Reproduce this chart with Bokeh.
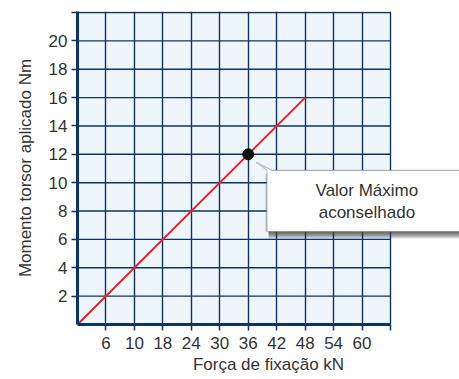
from bokeh.plotting import figure
from bokeh.models import FixedTicker, PolyAnnotation, Label, BoxAnnotation
from bokeh.embed import file_html
from bokeh.resources import INLINE

# ---- data ----
x_positions = [1, 2, 3, 4, 5, 6, 7, 8, 9, 10, 11]
x_labels = ["6", "10", "18", "24", "30", "36", "42", "48", "54", "60", ""]
y_ticks = [2, 4, 6, 8, 10, 12, 14, 16, 18, 20, 22]
y_labels = ["2", "4", "6", "8", "10", "12", "14", "16", "18", "20", ""]
line_x = [0, 8]
line_y = [0, 16]
max_x = [6]
max_y = [12]
callout_lines = ["Valor Máximo", "aconselhado"]

FONT = "Liberation Sans"
NAVY = "#0c3466"
TXT = "#333333"

x_end = x_positions[-1]
y_end = y_ticks[-1]

p = figure(frame_width=382, frame_height=313, x_range=(0, 13.425), y_range=(0, 22.07),
           output_backend="svg", toolbar_location=None,
           min_border_left=77, min_border_right=0, min_border_top=11, min_border_bottom=0)
p.outline_line_color = None
p.background_fill_color = "white"
p.border_fill_color = "white"

# grid panel background
p.add_layout(BoxAnnotation(left=0, right=x_end, bottom=0, top=y_end, fill_color="#eef6fc",
                           fill_alpha=1, line_color=None, level="image"))

# axes
p.xaxis.ticker = FixedTicker(ticks=x_positions)
p.xaxis.major_label_overrides = {k: v for k, v in zip(x_positions, x_labels)}
p.xaxis.bounds = (0, x_end)
p.yaxis.ticker = FixedTicker(ticks=y_ticks)
p.yaxis.major_label_overrides = {k: v for k, v in zip(y_ticks, y_labels)}
for ax in (p.xaxis[0], p.yaxis[0]):
    ax.axis_line_color = NAVY
    ax.axis_line_width = 3
    ax.major_tick_line_color = NAVY
    ax.major_tick_line_width = 1.5
    ax.major_tick_out = 6
    ax.major_tick_in = 0
    ax.minor_tick_line_color = None
    ax.major_label_text_font = FONT
    ax.major_label_text_font_size = "17px"
    ax.major_label_text_color = TXT
    ax.axis_label_text_font = FONT
    ax.axis_label_text_font_size = "17px"
    ax.axis_label_text_font_style = "normal"
    ax.axis_label_text_color = TXT
p.xaxis.axis_label = "Força de fixação kN"
p.yaxis.axis_label = "Momento torsor aplicado Nm"
p.xaxis.major_label_standoff = 6
p.xaxis.axis_label_standoff = 3
p.yaxis.major_label_standoff = 4
p.yaxis.axis_label_standoff = 11

# grid: vertical lines via Grid, horizontal lines limited to the panel
p.xgrid.ticker = FixedTicker(ticks=x_positions)
p.xgrid.grid_line_color = NAVY
p.xgrid.grid_line_width = 1.4
p.ygrid.grid_line_color = None
p.segment(x0=[0] * len(y_ticks), y0=y_ticks, x1=[x_end] * len(y_ticks), y1=y_ticks,
          line_color=NAVY, line_width=1.4)

# data
p.line(line_x, line_y, line_color="#e8232a", line_width=2)
p.scatter(max_x, max_y, size=11, fill_color="#111111", line_color="#111111")

# callout
tip = (6.28, 11.45)
L, R, T, B = 6.66, 13.6, 10.87, 6.55
px = 22.07 / 313.0
for k in range(1, 8):
    p.add_layout(PolyAnnotation(xs=[L + 0.06, R, R, L + 0.06], ys=[T, T, B - k * px, B - k * px],
                                fill_color="#3a3a3a", fill_alpha=0.16, line_color=None))
p.add_layout(PolyAnnotation(xs=[L - 0.06, L, L, L - 0.06], ys=[T - 0.3, T - 0.3, B, B],
                            fill_color="#888888", fill_alpha=0.35, line_color=None))
p.add_layout(PolyAnnotation(xs=[tip[0], 6.81, R, R, L, L], ys=[tip[1], T, T, B, B, T],
                            fill_color="white", fill_alpha=1, line_color="#3a3a3a", line_width=1.2))
for txt, yy in zip(callout_lines, (9.45, 7.92)):
    p.add_layout(Label(x=10.17, y=yy, text=txt, text_align="center", text_baseline="middle",
                       text_font=FONT, text_font_size="17px", text_color=TXT))

open("out.html", "w").write(file_html(p, INLINE))
